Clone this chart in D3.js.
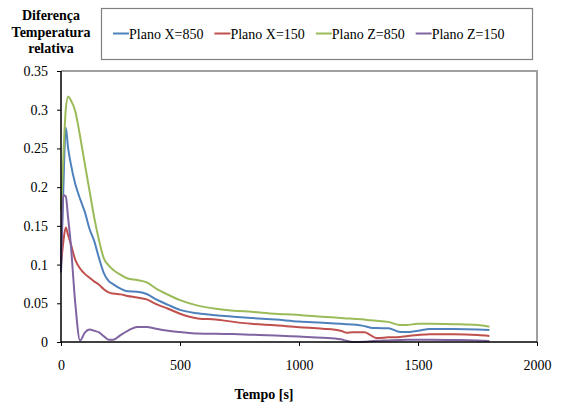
<!DOCTYPE html>
<html>
<head>
<meta charset="utf-8">
<script src="https://cdn.jsdelivr.net/npm/d3@7"></script>
<style>
  html, body { margin: 0; padding: 0; background: #fff; }
  svg { display: block; }
</style>
</head>
<body>
<svg id="chart" width="561" height="403"></svg>
<script>
const times = [0, 10, 20, 30, 40, 60, 80, 100, 120, 140, 160, 180, 200, 220, 250, 280, 320, 360, 400, 450, 500, 575, 650, 725, 800, 900, 1000, 1100, 1175, 1200, 1225, 1275, 1300, 1325, 1375, 1425, 1450, 1500, 1550, 1650, 1750, 1800];

const planoX850 = [0.09, 0.2, 0.277, 0.25, 0.232, 0.204, 0.185, 0.168, 0.146, 0.13, 0.108, 0.089, 0.079, 0.0745, 0.069, 0.0655, 0.065, 0.062, 0.055, 0.048, 0.0415, 0.037, 0.0345, 0.0327, 0.031, 0.029, 0.0265, 0.025, 0.0235, 0.023, 0.0225, 0.0205, 0.0185, 0.018, 0.0178, 0.013, 0.0128, 0.0145, 0.0168, 0.0168, 0.0162, 0.0155];

const planoX150 = [0.1, 0.13, 0.148, 0.138, 0.128, 0.106, 0.095, 0.088, 0.083, 0.078, 0.074, 0.068, 0.064, 0.0625, 0.0615, 0.0595, 0.0575, 0.055, 0.049, 0.043, 0.0365, 0.0305, 0.029, 0.026, 0.0235, 0.0215, 0.019, 0.0172, 0.0146, 0.012, 0.0125, 0.0125, 0.009, 0.0052, 0.006, 0.0065, 0.0075, 0.009, 0.0099, 0.0099, 0.009, 0.0078];

const planoZ850 = [0.17, 0.24, 0.3, 0.317, 0.313, 0.298, 0.266, 0.23, 0.195, 0.16, 0.131, 0.108, 0.099, 0.093, 0.087, 0.082, 0.08, 0.077, 0.069, 0.061, 0.054, 0.047, 0.043, 0.0405, 0.039, 0.0365, 0.035, 0.0325, 0.031, 0.0305, 0.03, 0.029, 0.028, 0.0275, 0.026, 0.022, 0.022, 0.0235, 0.0235, 0.023, 0.022, 0.0198];

const planoZ150 = [0.09, 0.19, 0.188, 0.16, 0.13, 0.05, 0.002, 0.012, 0.016, 0.0145, 0.0125, 0.0075, 0.003, 0.003, 0.009, 0.0145, 0.0195, 0.0195, 0.017, 0.0145, 0.013, 0.011, 0.0105, 0.0103, 0.0095, 0.0085, 0.007, 0.0055, 0.0035, 0.0015, 0.0, 0.0004, 0.001, 0.0015, 0.002, 0.0026, 0.0028, 0.003, 0.003, 0.0026, 0.002, 0.0013];

const seriesNames = ["Plano X=850", "Plano X=150", "Plano Z=850", "Plano Z=150"];
const seriesValues = [planoX850, planoX150, planoZ850, planoZ150];
const seriesColors = ["#4F81BD", "#C0504D", "#9BBB59", "#8064A2"];

const xTicks = [0, 500, 1000, 1500, 2000];
const yTicks = [0, 0.05, 0.1, 0.15, 0.2, 0.25, 0.3, 0.35];
const yTickLabels = ["0", "0.05", "0.1", "0.15", "0.2", "0.25", "0.3", "0.35"];
const titleLines = ["Diferença", "Temperatura", "relativa"];
const xTitle = "Tempo [s]";

(function () {
const FONT = "Liberation Serif, Times New Roman, serif";
const svg = d3.select("#chart");
const pL = 61, pR = 537, pT = 71, pB = 342;

const x = d3.scaleLinear().domain([0, 2000]).range([pL, pR]);
const y = d3.scaleLinear().domain([0, 0.35]).range([pB, pT]);

// plot area border (top and right)
svg.append("path")
  .attr("d", `M${pL},${pT}H${pR}V${pB}`)
  .attr("fill", "none")
  .attr("stroke", "#a0a0a0")
  .attr("stroke-width", 2);

// series
const line = d3.line()
  .x((d, i) => x(times[i]))
  .y(d => y(d))
  .curve(d3.curveMonotoneX);

seriesValues.forEach((vals, k) => {
  svg.append("path")
    .datum(vals)
    .attr("d", line)
    .attr("fill", "none")
    .attr("stroke", seriesColors[k])
    .attr("stroke-width", 2)
    .attr("stroke-linejoin", "round");
});

// axes
const yAxis = d3.axisLeft(y).tickValues(yTicks).tickSize(4).tickPadding(9)
  .tickFormat((d, i) => yTickLabels[i]);
const gy = svg.append("g").attr("transform", `translate(${pL},0)`).call(yAxis);
const xAxis = d3.axisBottom(x).tickValues(xTicks).tickSize(4).tickPadding(14)
  .tickFormat(d3.format("d"));
const gx = svg.append("g").attr("transform", `translate(0,${pB})`).call(xAxis);

[gx, gy].forEach(g => {
  g.attr("font-family", null).attr("font-size", 14);
  g.select(".domain").attr("stroke", "#000").attr("stroke-width", 1.5);
  g.selectAll(".tick line").attr("stroke", "#000").attr("stroke-width", 1);
  g.selectAll(".tick text")
    .attr("class", "lbl")
    .attr("fill", "#000")
    .attr("font-size", 14);
});
gy.select(".domain").attr("d", `M0,${pB}V${pT}`);
gx.select(".domain").attr("d", `M${pL},0H${pR}`);

// y title
const yt = svg.append("text")
  .attr("class", "lbl")
  .attr("text-anchor", "middle")
  .attr("font-size", 14)
  .attr("font-weight", "bold");
titleLines.forEach((t, i) => {
  yt.append("tspan").attr("x", 51).attr("y", 20 + i * 16.5).text(t);
});

// x title
svg.append("text")
  .attr("class", "lbl")
  .attr("x", 264).attr("y", 399)
  .attr("text-anchor", "middle")
  .attr("font-size", 14)
  .attr("font-weight", "bold")
  .text(xTitle);

// legend
svg.append("rect")
  .attr("x", 101.5).attr("y", 8.5)
  .attr("width", 431).attr("height", 51)
  .attr("fill", "#fff")
  .attr("stroke", "#808080")
  .attr("stroke-width", 1.2);

const legendTexts = [];
seriesNames.forEach((name, k) => {
  const ln = svg.append("line")
    .attr("y1", 33.5).attr("y2", 33.5)
    .attr("stroke", seriesColors[k])
    .attr("stroke-width", 2);
  const t = svg.append("text")
    .attr("class", "lbl")
    .attr("y", 38.5)
    .attr("font-size", 14)
    .text(name);
  legendTexts.push({ ln, t });
});

function layoutLegend() {
  let lx = 113;
  legendTexts.forEach(({ ln, t }) => {
    ln.attr("x1", lx).attr("x2", lx + 16);
    t.attr("x", lx + 16);
    lx += 16 + t.node().getComputedTextLength() + 11;
  });
}

// default font for the whole svg (texts inherit); re-applied later to force re-matching
svg.attr("font-family", "Liberation Serif");
svg.selectAll("text.lbl").attr("font-family", FONT);
layoutLegend();

function reapply() {
  svg.selectAll("text.lbl").attr("font-family", "'Liberation Serif', Tinos, serif");
  layoutLegend();
}
if (document.fonts && document.fonts.ready) document.fonts.ready.then(reapply);
requestAnimationFrame(() => requestAnimationFrame(reapply));
setTimeout(reapply, 30);
})();
</script>
</body>
</html>
